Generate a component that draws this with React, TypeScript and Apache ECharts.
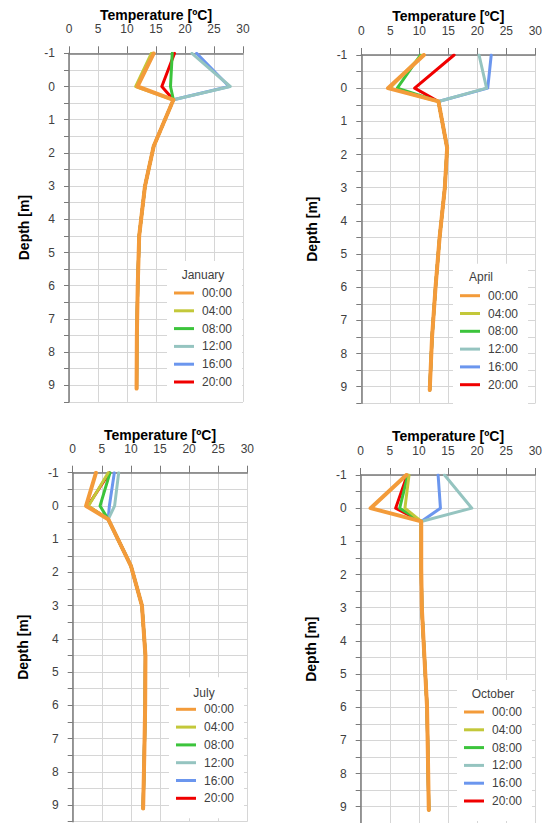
import React, { useEffect, useRef } from "react";
import * as echarts from "echarts";

// ---- data ----
const times = ["00:00", "04:00", "08:00", "12:00", "16:00", "20:00"];
const months = ["January", "April", "July", "October"];
const surfaceDepths = [-1, 0];
const deepDepths = [0.4, 1.8, 3, 4.5, 6, 7.5, 9.1];

// rows follow `times`, columns follow `surfaceDepths`
const janSurface = [[14.6, 11.8], [14.2, 11.5], [17.8, 17.5], [21.2, 27.8], [22.0, 27.6], [18.2, 16.0]];
const aprSurface = [[10.8, 4.6], [10.5, 4.9], [10.2, 6.2], [20.3, 21.6], [22.4, 21.8], [16.0, 9.2]];
const julSurface = [[4.0, 2.3], [6.1, 2.7], [6.4, 4.7], [7.9, 7.2], [7.15, 6.3], [6.3, 2.6]];
const octSurface = [[7.85, 1.7], [8.3, 7.6], [8.1, 6.7], [14.4, 19.1], [13.3, 13.7], [8.0, 6.0]];

// shared profile below the surface, following `deepDepths`
const janDeep = [18.0, 14.6, 13.1, 12.1, 11.85, 11.7, 11.65];
const aprDeep = [13.3, 14.8, 14.4, 13.5, 12.8, 12.2, 11.8];
const julDeep = [6.1, 10.0, 11.9, 12.5, 12.45, 12.3, 12.1];
const octDeep = [10.4, 10.4, 10.5, 10.95, 11.4, 11.55, 11.7];

const xTicks = { min: 0, max: 30, interval: 5 };
const yTicks = { min: -1, max: 9.5, interval: 0.5 };

// ---- styles / layout ----
const colors = ["#F39B3A", "#C3C83A", "#3CC43C", "#95C4C0", "#6B96EE", "#F00000"];
const widths = [4, 3, 3, 3, 3, 3];
const FONT = "'Liberation Sans', Arial, sans-serif";
const grids = [
  { left: 69, top: 53.3, width: 174, height: 348.6, xGap: 31, yGap: 38 },
  { left: 361.3, top: 55, width: 174, height: 348.3, xGap: 32, yGap: 42 },
  { left: 72.7, top: 472.7, width: 174.6, height: 349, xGap: 31, yGap: 43 },
  { left: 360.7, top: 475, width: 174.6, height: 348.3, xGap: 32, yGap: 43 },
];
const legendPos = [
  { left: 167, top: 261, tx: 203, ty: 275 },
  { left: 453, top: 263.7, tx: 481, ty: 277 },
  { left: 169, top: 677.3, tx: 204, ty: 692.7 },
  { left: 457, top: 680, tx: 493, ty: 694 },
];

const surfaces = [janSurface, aprSurface, julSurface, octSurface];
const deeps = [janDeep, aprDeep, julDeep, octDeep];

export default function App() {
  const ref = useRef<HTMLDivElement>(null);
  useEffect(() => {
    if (!ref.current) return;
    const chart = echarts.init(ref.current, undefined, { renderer: "svg" });
    const axisColor = "#7A7A7A";
    const gridColor = "#D6D6D6";
    const labelColor = "#404040";

    const series: any[] = [];
    months.forEach((_, p) => {
      for (let t = times.length - 1; t >= 0; t--) {
        const data = surfaceDepths
          .map((d, i) => [surfaces[p][t][i], d])
          .concat(deepDepths.map((d, i) => [deeps[p][i], d]));
        series.push({
          type: "line",
          name: times[t],
          xAxisIndex: p,
          yAxisIndex: p,
          data,
          symbol: "none",
          showSymbol: false,
          color: colors[t],
          lineStyle: { color: colors[t], width: widths[t], join: "round", cap: "round" },
          emphasis: { disabled: true },
        });
      }
    });

    chart.setOption({
      animation: false,
      textStyle: { fontFamily: FONT },
      grid: grids.map((g) => ({
        left: g.left,
        top: g.top,
        width: g.width,
        height: g.height,
        containLabel: false,
        outerBoundsMode: "none",
      })),
      xAxis: grids.map((g, i) => ({
        type: "value",
        gridIndex: i,
        position: "top",
        min: xTicks.min,
        max: xTicks.max,
        interval: xTicks.interval,
        name: "Temperature [ºC]",
        nameLocation: "middle",
        nameGap: g.xGap,
        nameTextStyle: { fontWeight: "bold", fontSize: 14, color: "#000", fontFamily: FONT },
        axisLine: { show: true, onZero: false, lineStyle: { color: axisColor, width: 1.5 } },
        axisTick: { show: true, length: 7, lineStyle: { color: axisColor } },
        axisLabel: { margin: 18, fontSize: 12, color: labelColor, fontFamily: FONT },
        splitLine: { show: true, lineStyle: { color: gridColor, width: 1 } },
      })),
      yAxis: grids.map((g, i) => ({
        type: "value",
        gridIndex: i,
        inverse: true,
        min: yTicks.min,
        max: yTicks.max,
        interval: yTicks.interval,
        name: "Depth [m]",
        nameLocation: "middle",
        nameGap: g.yGap,
        nameTextStyle: { fontWeight: "bold", fontSize: 14, color: "#000", fontFamily: FONT },
        axisLine: { show: true, onZero: false, lineStyle: { color: axisColor, width: 1.5 } },
        axisTick: { show: true, length: 5, lineStyle: { color: axisColor } },
        axisLabel: {
          margin: 14,
          fontSize: 12,
          color: labelColor,
          fontFamily: FONT,
          formatter: (v: number) => (Math.abs(v - Math.round(v)) < 1e-6 ? String(Math.round(v)) : ""),
        },
        splitLine: { show: true, lineStyle: { color: gridColor, width: 1 } },
      })),
      legend: legendPos.map((l) => ({
        data: times,
        orient: "vertical",
        left: l.left,
        top: l.top,
        icon: "rect",
        itemWidth: 20,
        itemHeight: 3,
        itemGap: 3.8,
        padding: [25, 10, 13, 7],
        backgroundColor: "#fff",
        selectedMode: false,
        textStyle: { fontSize: 12, color: labelColor, lineHeight: 14, fontFamily: FONT, padding: [0, 0, 0, 3] },
      })),
      graphic: legendPos.map((l, i) => ({
        type: "text",
        x: l.tx,
        y: l.ty,
        z: 100,
        style: {
          text: months[i],
          fill: labelColor,
          fontSize: 12,
          fontFamily: FONT,
          align: "center",
          verticalAlign: "middle",
        },
      })),
      series,
    });
    return () => chart.dispose();
  }, []);
  return (
    <div
      ref={ref}
      style={{ position: "absolute", left: 0, top: 0, width: 546, height: 823, background: "#fff" }}
    />
  );
}
